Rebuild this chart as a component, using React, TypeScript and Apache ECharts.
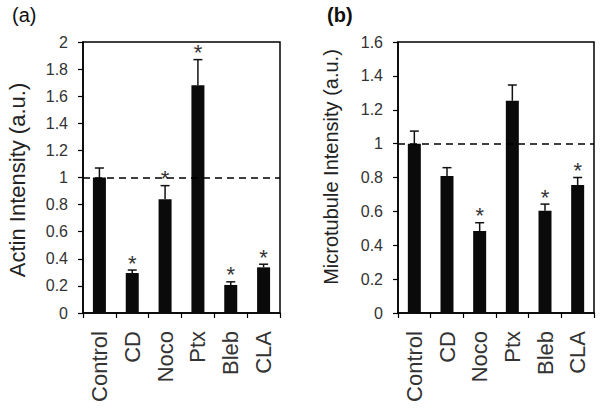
import React, { useEffect, useRef } from "react";
import * as echarts from "echarts";

const categories = ["Control", "CD", "Noco", "Ptx", "Bleb", "CLA"];
const actinValues = [1.0, 0.295, 0.84, 1.68, 0.207, 0.337];
const actinErrTop = [1.07, 0.317, 0.94, 1.87, 0.23, 0.36];
const actinStars = [false, true, true, true, true, true];
const mtValues = [1.0, 0.809, 0.484, 1.253, 0.604, 0.756];
const mtErrTop = [1.074, 0.858, 0.533, 1.346, 0.643, 0.8];
const mtStars = [false, false, true, false, true, true];

const FONT = "Liberation Sans, Arial, sans-serif";

function errData(values: number[], tops: number[], stars: boolean[]) {
  return values.map((v, i) => [i, v, tops[i], stars[i] ? 1 : 0]);
}

const renderErr = (params: any, api: any) => {
  const i = api.value(0);
  const base = api.coord([i, api.value(1)]);
  const top = api.coord([i, api.value(2)]);
  const x = base[0];
  const children: any[] = [
    {
      type: "line",
      shape: { x1: x, y1: base[1], x2: x, y2: top[1] },
      style: { stroke: "#111", lineWidth: 1.5 },
    },
    {
      type: "line",
      shape: { x1: x - 4.5, y1: top[1], x2: x + 4.5, y2: top[1] },
      style: { stroke: "#111", lineWidth: 1.5 },
    },
  ];
  if (api.value(3)) {
    children.push({
      type: "text",
      x: x,
      y: top[1] - 7,
      style: {
        text: "*",
        fontSize: 22,
        fontFamily: FONT,
        fill: "#333",
        align: "center",
        verticalAlign: "middle",
      },
    });
  }
  return { type: "group", children };
};

function yAxis(gridIndex: number, max: number) {
  return {
    type: "value",
    gridIndex,
    min: 0,
    max,
    interval: 0.2,
    axisLine: { show: true, lineStyle: { color: "#000", width: 1.5 } },
    axisTick: { show: true, inside: false, length: 5, lineStyle: { color: "#000", width: 1.2 } },
    axisLabel: { fontSize: 16, fontFamily: FONT, color: "#333", margin: 15 },
    splitLine: { show: false },
  };
}

function xAxis(gridIndex: number) {
  return {
    type: "category",
    gridIndex,
    data: categories,
    axisLine: { show: true, lineStyle: { color: "#000", width: 1.5 } },
    axisTick: { show: true, alignWithLabel: false, length: 5, lineStyle: { color: "#000", width: 1.2 } },
    axisLabel: { rotate: 90, fontSize: 22, fontFamily: FONT, color: "#333", margin: 18, interval: 0 },
  };
}

function barSeries(idx: number, values: number[]) {
  return {
    type: "bar",
    xAxisIndex: idx,
    yAxisIndex: idx,
    data: values,
    barWidth: 13,
    itemStyle: { color: "#0a0a0a" },
    markLine: {
      silent: true,
      symbol: "none",
      label: { show: false },
      lineStyle: { color: "#000", type: [7, 5], width: 1.5 },
      data: [{ yAxis: 1 }],
    },
    z: 2,
  };
}

export default function App() {
  const ref = useRef<HTMLDivElement>(null);
  useEffect(() => {
    if (!ref.current) return;
    const chart = echarts.init(ref.current, null, { renderer: "svg" });
    chart.setOption({
      animation: false,
      backgroundColor: "#fff",
      grid: [
        { left: 83, top: 42, width: 197, height: 271, show: true, borderColor: "#000", borderWidth: 1.5, backgroundColor: "transparent" },
        { left: 398, top: 42, width: 196, height: 271, show: true, borderColor: "#000", borderWidth: 1.5, backgroundColor: "transparent" },
      ],
      xAxis: [xAxis(0), xAxis(1)],
      yAxis: [yAxis(0, 2), yAxis(1, 1.6)],
      graphic: [
        { type: "text", left: 12, top: 5, style: { text: "(a)", fontSize: 20, fontFamily: FONT, fill: "#111" } },
        { type: "text", left: 327, top: 5, style: { text: "(b)", fontSize: 20, fontWeight: "bold", fontFamily: FONT, fill: "#111" } },
        {
          type: "text",
          x: 17,
          y: 180,
          rotation: Math.PI / 2,
          style: { text: "Actin Intensity (a.u.)", fontSize: 22, fontFamily: FONT, fill: "#222", align: "center", verticalAlign: "middle" },
        },
        {
          type: "text",
          x: 331,
          y: 167,
          rotation: Math.PI / 2,
          style: { text: "Microtubule Intensity (a.u.)", fontSize: 20, fontFamily: FONT, fill: "#222", align: "center", verticalAlign: "middle" },
        },
      ],
      series: [
        barSeries(0, actinValues),
        barSeries(1, mtValues),
        {
          type: "custom",
          xAxisIndex: 0,
          yAxisIndex: 0,
          data: errData(actinValues, actinErrTop, actinStars),
          renderItem: renderErr,
          z: 3,
        },
        {
          type: "custom",
          xAxisIndex: 1,
          yAxisIndex: 1,
          data: errData(mtValues, mtErrTop, mtStars),
          renderItem: renderErr,
          z: 3,
        },
      ],
    });
    return () => chart.dispose();
  }, []);
  return <div ref={ref} style={{ width: 600, height: 410, position: "absolute", left: 0, top: 0 }} />;
}
